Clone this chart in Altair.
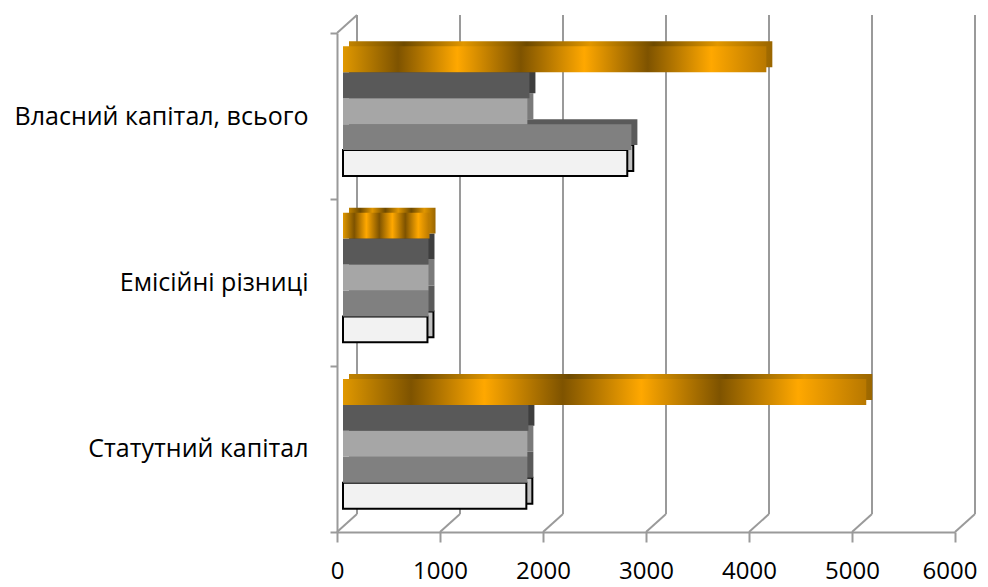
import altair as alt
import pandas as pd

# ---- data ----
categories = ["Статутний капітал", "Емісійні різниці", "Власний капітал, всього"]  # bottom -> top
series = ["Ряд 1", "Ряд 2", "Ряд 3", "Ряд 4", "Ряд 5"]  # bottom -> top inside each group
s1 = [1780, 820, 2760]   # white
s2 = [1790, 830, 2800]   # mid grey
s3 = [1790, 830, 1790]   # light grey
s4 = [1800, 830, 1810]   # dark grey
s5 = [5080, 840, 4110]   # orange
x_ticks = [0, 1000, 2000, 3000, 4000, 5000, 6000]

values = [s1, s2, s3, s4, s5]

# ---- styling ----
FONT = "Open Sans"
GRID = "#9A9A9A"
W, H = 618, 499
DX, DY = 20, -18          # back-wall depth offset in px
BX, BY = 6, -5            # bar front-face offset in px
GROUP = 0.78

front_cols = ["#F2F2F2", "#808080", "#A6A6A6", "#595959"]
side_cols = ["#BFBFBF", "#5A5A5A", "#7A7A7A", "#3E3E3E"]

def grad(dark, mid, bright, edge):
    offs = [(0.0, mid), (0.13, dark), (0.27, bright), (0.42, dark),
            (0.57, bright), (0.72, dark), (0.87, bright), (1.0, edge)]
    return alt.LinearGradient(gradient="linear", x1=0, x2=1, y1=0, y2=0,
                              stops=[alt.GradientStop(offset=o, color=c) for o, c in offs])

orange_front = grad("#7E5300", "#E09800", "#FFA800", "#B87800")
orange_side = grad("#6E4A00", "#C08200", "#E09600", "#9A6600")

# ---- tables ----
bh = GROUP / len(series)
rows = []
for i, cat in enumerate(categories):
    for j, ser in enumerate(series):
        y1 = i + (1 - GROUP) / 2 + j * bh
        rows.append({"category": cat, "series": ser, "value": values[j][i],
                     "y1": y1, "y2": y1 + bh})
bars = pd.DataFrame(rows)
ticks = pd.DataFrame({"t": x_ticks, "ybot": 0, "ytop": len(categories)})
corner = pd.DataFrame({"t": [0], "ytop": [len(categories)]})

xscale = alt.Scale(domain=[0, 6000], nice=False, zero=False)
yscale = alt.Scale(domain=[0, len(categories)], nice=False, zero=False)

label_expr = " : ".join(
    [f"datum.value == {i + 0.5} ? '{c}'" for i, c in enumerate(categories)]) + " : ''"

last_tick = f"datum.value == {x_ticks[-1]}"
xaxis = alt.Axis(values=x_ticks, format="d", title=None, grid=False, tickSize=10, tickWidth=2,
                 tickColor=GRID, domainColor=GRID, domainWidth=2, labelFont=FONT,
                 labelFontSize=24, labelColor="#000000", labelPadding=17,
                 labelAlign={"condition": {"test": last_tick, "value": "right"}, "value": "center"},
                 labelOffset={"condition": {"test": last_tick, "value": 22}, "value": 0},
                 labelFlush=False, labelOverlap=False)
yaxis = alt.Axis(values=[k * 0.5 for k in range(2 * len(categories) + 1)], title=None,
                 grid=False, tickSize=7, tickWidth=2, tickColor=GRID,
                 tickOpacity={"condition": {"test": "datum.value % 1 == 0", "value": 1}, "value": 0},
                 domainColor=GRID, domainWidth=2, labelFont=FONT, labelFontSize=25,
                 labelColor="#000000", labelPadding=22, labelExpr=label_expr,
                 labelLimit=500, labelOverlap=False, labelFlush=False, labelBaseline="middle")

def X(f):
    return alt.X(f, scale=xscale, axis=xaxis)

def Y(f):
    return alt.Y(f, scale=yscale, axis=yaxis)

# back wall vertical gridlines
back = alt.Chart(ticks).mark_rule(color=GRID, strokeWidth=2, xOffset=DX,
                                  yOffset=DY, y2Offset=DY).encode(
    x=X("t:Q"), y=Y("ybot:Q"), y2="ytop:Q",
)
# floor diagonals
diag = alt.Chart(ticks).mark_rule(color=GRID, strokeWidth=2, x2Offset=DX, y2Offset=DY).encode(
    x=X("t:Q"), x2="t:Q", y=Y("ybot:Q"), y2="ybot:Q",
)
# side wall top diagonal
top_diag = alt.Chart(corner).mark_rule(color=GRID, strokeWidth=2, x2Offset=DX, y2Offset=DY).encode(
    x=X("t:Q"), x2="t:Q", y=Y("ytop:Q"), y2="ytop:Q",
)

layers = [back, diag, top_diag]


def bar_layer(ser, fill, dx, dy, stroke=None):
    kw = dict(fill=fill, xOffset=dx, x2Offset=dx, yOffset=dy, y2Offset=dy)
    if stroke:
        kw.update(stroke=stroke, strokeWidth=2)
    else:
        kw.update(strokeWidth=0)
    return alt.Chart(bars).transform_filter(alt.datum.series == ser).mark_rect(**kw).encode(
        x=X("value:Q"), x2=alt.datum(0), y=Y("y1:Q"), y2="y2:Q",
    )

# extrusions (side/top faces) first, then front faces
for j, ser in enumerate(series):
    fill = orange_side if j == 4 else side_cols[j]
    layers.append(bar_layer(ser, fill, 2 * BX, 2 * BY, "#000000" if j == 0 else None))
for j, ser in enumerate(series):
    fill = orange_front if j == 4 else front_cols[j]
    layers.append(bar_layer(ser, fill, BX, BY, "#000000" if j == 0 else None))

chart = alt.layer(*layers).properties(
    width=W, height=H, autosize="none",
    padding={"left": 329, "top": 25, "right": 25, "bottom": 55},
).configure_view(strokeWidth=0)

chart.save("out.html", embed_options={"renderer": "svg", "actions": False})
